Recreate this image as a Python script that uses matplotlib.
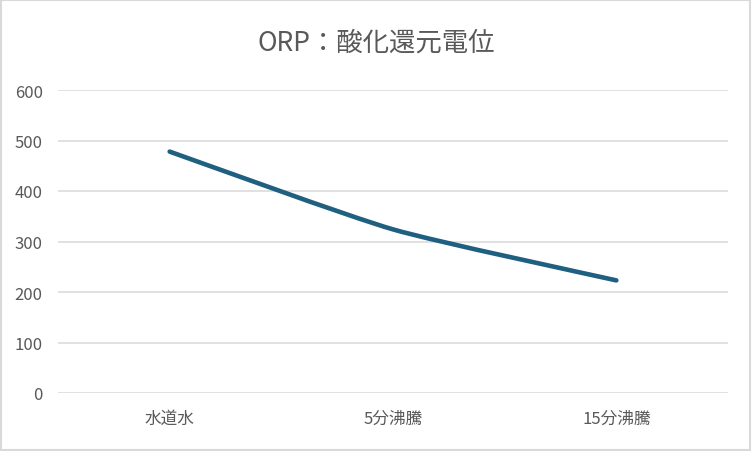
import matplotlib
matplotlib.use("Agg")
import matplotlib.pyplot as plt
from matplotlib.path import Path
from matplotlib.patches import PathPatch, Rectangle

plt.rcParams["font.family"] = ["Noto Sans CJK JP", "DejaVu Sans"]

categories = ["水道水", "5分沸騰", "15分沸騰"]
orp_values = [478, 324, 223]
y_ticks = [0, 100, 200, 300, 400, 500, 600]
title = "ORP：酸化還元電位"

LINE = "#1f5f80"
GRID = "#d9d9d9"
TEXT = "#595959"


def smooth_path(xs, ys, k=10):
    # smoothed line: Catmull-Rom style cubic Bezier segments (lower tension)
    pts = list(zip(xs, ys))
    verts, codes = [pts[0]], [Path.MOVETO]
    for i in range(len(pts) - 1):
        p0 = pts[max(i - 1, 0)]
        p1, p2 = pts[i], pts[i + 1]
        p3 = pts[min(i + 2, len(pts) - 1)]
        c1 = (p1[0] + (p2[0] - p0[0]) / k, p1[1] + (p2[1] - p0[1]) / k)
        c2 = (p2[0] - (p3[0] - p1[0]) / k, p2[1] - (p3[1] - p1[1]) / k)
        verts += [c1, c2, p2]
        codes += [Path.CURVE4] * 3
    return Path(verts, codes)


fig = plt.figure(figsize=(7.52, 4.52), dpi=100)
ax = fig.add_axes([58 / 752, 58 / 452, 670 / 752, 303 / 452])

x = list(range(len(categories)))
ax.add_patch(PathPatch(smooth_path(x, orp_values), fill=False, edgecolor=LINE,
                       linewidth=3.3, capstyle="round", joinstyle="round", zorder=3))

ax.set_xlim(-0.5, len(categories) - 0.5)
ax.set_ylim(0, 600)
ax.set_xticks(x)
ax.set_xticklabels(categories)
ax.set_yticks(y_ticks)
ax.tick_params(axis="both", length=0, colors=TEXT, labelsize=12)
ax.tick_params(axis="y", pad=11)
ax.tick_params(axis="x", pad=12)
ax.grid(axis="y", color=GRID, linewidth=1.1)
ax.set_axisbelow(True)
for s in ax.spines.values():
    s.set_visible(False)

fig.text(0.5, 1 - 43 / 452, title, ha="center", va="center", fontsize=19, color=TEXT)
fig.patches.append(Rectangle((0.001, 0.002), 0.997, 0.996, transform=fig.transFigure,
                             fill=False, edgecolor=GRID, linewidth=1.5))

fig.savefig("out.png", dpi=100)
